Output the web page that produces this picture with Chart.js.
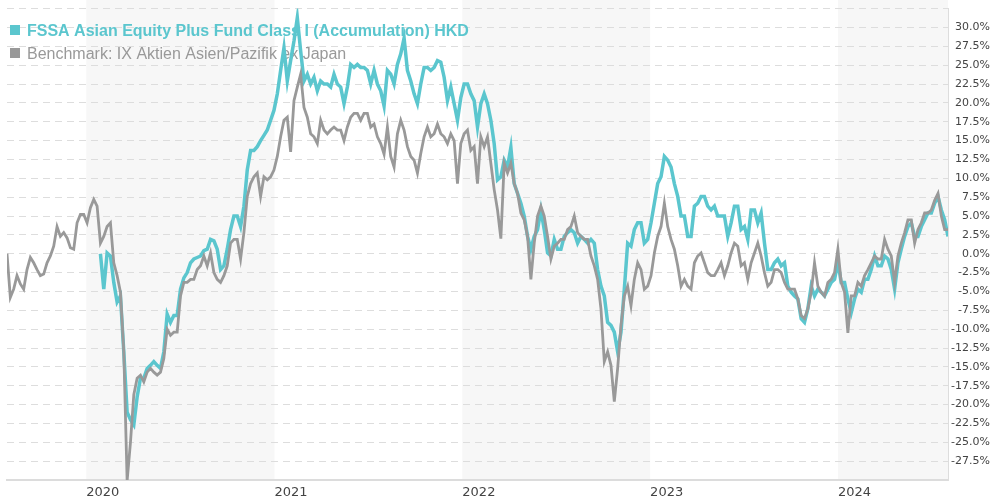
<!DOCTYPE html>
<html>
<head>
<meta charset="utf-8">
<title>FSSA Asian Equity Plus Fund - performance</title>
<script src="https://cdn.jsdelivr.net/npm/chart.js@4.4.1/dist/chart.umd.min.js"></script>
<style>
  html, body { margin: 0; padding: 0; background: #fff; }
  #wrap { width: 990px; height: 500px; }
</style>
</head>
<body>
<div id="wrap"><canvas id="perfChart" width="990" height="500"></canvas></div>
<script>
// Cumulative performance in %, fund vs benchmark
const seriesNames = [
  'FSSA Asian Equity Plus Fund Class I (Accumulation) HKD',
  'Benchmark: IX Aktien Asien/Pazifik ex Japan'
];
const seriesColors = ['#5bc6ce', '#999999'];

// observations are evenly spaced between these two dates
const startDate = Date.UTC(2019, 6, 31);
const endDate = Date.UTC(2024, 7, 2);

const yearTicks = [2020, 2021, 2022, 2023, 2024];
const shadedYears = [2020, 2022, 2024];
const yMin = -30;
const yMax = 32.5;
const yStep = 2.5;

const benchmarkReturn = [
  0.0, -5.8, -4.7, -2.9, -4.0, -4.7, -2.1, -0.5, -1.2, -2.1, -2.9, -2.7, -1.2, -0.3, 1.0, 3.6,
  2.3, 2.8, 2.1, 0.8, 0.6, 4.1, 5.2, 5.2, 4.1, 6.1, 7.2, 6.3, 1.4, 2.3, 3.6, 4.1,
  -1.2, -2.9, -5.1, -13.0, -30.1, -25.0, -18.7, -16.5, -16.1, -17.0, -15.7, -15.2, -15.7, -16.1,
  // 2020 recovery
  -15.7, -13.9, -10.0, -10.8, -10.4, -10.4, -5.6, -3.8, -3.8, -3.4, -3.4, -2.1, -1.6, -0.3, -1.6, 0.1,
  -2.5, -3.4, -3.8, -2.9, -1.6, 1.4, 1.9, 1.9, -0.7, 2.8, 7.6, 9.3, 10.2, 10.7, 7.6, 10.2,
  9.8, 10.2, 11.1, 12.9, 15.5, 17.7, 18.1, 13.5, 20.3, 22.1, 23.8, 19.4, 18.1, 15.9, 15.5, 14.6,
  // 2021
  17.7, 16.4, 15.9, 16.4, 16.8, 16.4, 16.4, 15.0, 16.8, 18.1, 18.6, 18.6, 17.7, 18.6, 18.6, 16.8,
  17.2, 15.5, 14.6, 13.2, 16.8, 12.9, 11.5, 15.9, 17.7, 16.4, 14.2, 12.9, 12.4, 10.7, 13.3, 15.5,
  16.8, 15.5, 15.9, 17.2, 15.9, 15.5, 14.6, 15.9, 15.0, 9.3, 14.6, 15.9, 16.4, 13.7, 14.2, 9.3,
  // 2022
  15.5, 14.2, 15.5, 12.0, 8.5, 5.8, 2.0, 12.0, 10.7, 12.0, 9.3, 8.0, 5.4, 4.5, 2.3, -3.4,
  1.4, 5.0, 6.3, 5.0, 2.3, -0.7, 1.0, 1.4, 1.9, 1.9, 3.2, 3.6, 5.0, 2.8, 2.3, 1.9,
  1.9, -0.3, -1.6, -3.4, -7.3, -14.3, -13.0, -14.8, -19.6, -15.2, -9.5, -5.6, -4.3, -6.9, -3.4, -1.2,
  // 2023
  -2.1, -4.7, -4.3, -2.9, 0.1, 2.3, 3.6, 6.7, 3.6, 1.9, 0.6, -1.6, -4.3, -3.4, -4.3, -4.7,
  -1.2, -0.3, 0.1, -1.2, -2.5, -2.9, -2.9, -2.1, -1.2, -2.9, -1.6, 0.1, 1.4, 1.0, -1.6, -1.2,
  -3.4, -1.2, 0.1, 1.4, -0.3, -2.5, -4.3, -3.8, -2.1, -2.1, -2.5, -3.8, -4.7, -4.7, -4.7, -6.0,
  // 2024
  -8.2, -8.6, -7.3, -5.1, -1.2, -4.3, -5.1, -5.6, -3.8, -3.4, -2.5, 0.6, -3.8, -5.1, -10.5, -5.6,
  -5.6, -3.8, -4.3, -2.9, -2.1, -1.2, -0.3, -0.7, -0.7, 1.9, 0.6, -0.3, -3.8, -0.3, 1.4, 2.8,
  4.5, 4.5, 1.4, 3.2, 4.1, 5.4, 5.4, 5.8, 7.1, 8.0, 5.0, 3.2, 3.2
];

// the fund line only starts early January 2020
const fundReturn = [
  null, null, null, null, null, null, null, null, null, null, null, null, null, null, null, null,
  null, null, null, null, null, null, null, null, null, null, null, null, 0.0, -4.7, 0.1, -0.3,
  -3.8, -6.4, -5.6, -13.0, -21.0, -22.0, -22.7, -19.0, -16.5, -16.5, -15.2, -14.8, -14.3, -14.8,
  -15.2, -13.0, -8.0, -9.1, -8.2, -8.2, -4.7, -3.2, -2.5, -1.2, -0.7, -0.5, -0.3, 0.4, 0.6, 1.9,
  1.7, 0.6, -2.1, -1.6, 0.6, 3.2, 5.0, 5.0, 3.6, 6.3, 11.1, 13.7, 13.7, 14.2, 15.0, 15.7,
  16.4, 17.7, 19.0, 21.2, 24.3, 27.3, 22.9, 25.6, 28.2, 31.3, 26.9, 22.9, 23.8, 22.5, 23.4, 21.6,
  22.9, 22.5, 22.5, 22.1, 23.8, 22.5, 22.1, 19.9, 22.1, 25.1, 24.7, 25.1, 24.7, 24.7, 24.3, 22.5,
  24.3, 22.5, 21.6, 19.6, 24.3, 23.8, 22.5, 25.1, 26.5, 28.6, 24.3, 22.9, 21.2, 19.9, 22.5, 24.7,
  24.7, 24.3, 24.7, 25.6, 25.4, 23.4, 20.3, 22.1, 19.9, 17.7, 20.7, 22.5, 22.5, 21.2, 20.3, 16.8,
  19.9, 21.2, 19.9, 17.7, 14.6, 9.8, 10.2, 12.4, 11.5, 14.1, 9.3, 8.0, 6.7, 5.0, 2.3, 0.6,
  2.3, 3.2, 5.8, 3.2, 0.1, -0.3, 1.9, 0.6, 0.6, 2.3, 2.8, 3.2, 2.8, 1.4, 2.3, 1.9,
  1.4, 1.9, 1.4, -2.1, -4.3, -5.6, -9.1, -9.5, -10.4, -13.0, -10.4, -4.7, 1.4, 1.0, 3.2, 4.1,
  4.1, 1.4, 1.9, 4.1, 6.7, 9.3, 10.2, 12.9, 12.4, 11.5, 9.3, 7.6, 5.0, 5.0, 2.3, 2.3,
  6.3, 6.7, 7.6, 7.6, 6.3, 5.8, 6.3, 5.0, 5.0, 5.0, 2.3, 4.1, 6.3, 6.3, 3.2, 3.6,
  1.9, 5.8, 5.8, 4.1, 5.4, 1.4, -2.1, -2.1, -1.2, -0.7, -1.6, -1.2, -4.3, -5.1, -5.6, -6.0,
  -8.6, -9.1, -7.3, -4.3, -5.6, -4.7, -5.1, -5.6, -4.7, -3.8, -3.4, -1.2, -3.8, -3.8, -6.0, -7.8,
  -6.0, -4.7, -5.1, -3.4, -3.4, -2.1, -0.3, -1.6, -1.6, -0.3, -0.7, -2.1, -4.7, -1.2, 0.6, 2.3,
  3.6, 4.1, 2.3, 2.3, 3.6, 4.5, 5.4, 5.4, 6.7, 7.6, 5.8, 4.5, 2.3
];

const stepMs = (endDate - startDate) / (benchmarkReturn.length - 1);
const toPoints = arr => arr.map((v, i) => ({ x: startDate + i * stepMs, y: v }));

// light grey background for every other calendar year
const yearBands = {
  id: 'yearBands',
  beforeDraw(chart) {
    const { ctx, chartArea, scales } = chart;
    const x = scales.x;
    ctx.save();
    ctx.fillStyle = '#f7f7f7';
    shadedYears.forEach(yr => {
      const x0 = Math.max(x.getPixelForValue(Date.UTC(yr, 0, 1)), chartArea.left);
      const x1 = Math.min(x.getPixelForValue(Date.UTC(yr + 1, 0, 1)), chartArea.right);
      if (x1 > x0) ctx.fillRect(x0, 0, x1 - x0, chartArea.bottom);
    });
    ctx.restore();
  }
};

// legend sits inside the plot, under the lines
const overlayLegend = {
  id: 'overlayLegend',
  beforeDatasetsDraw(chart) {
    const ctx = chart.ctx;
    ctx.save();
    ctx.textBaseline = 'alphabetic';
    ctx.textAlign = 'left';

    ctx.fillStyle = seriesColors[0];
    ctx.fillRect(10, 25, 10, 10);
    ctx.font = 'bold 16px "Liberation Sans", Arial, sans-serif';
    ctx.fillText(seriesNames[0], 27, 36);

    ctx.fillStyle = seriesColors[1];
    ctx.fillRect(10, 48, 10, 10);
    ctx.font = '16px "Liberation Sans", Arial, sans-serif';
    ctx.fillText(seriesNames[1], 27, 59);
    ctx.restore();
  }
};

new Chart(document.getElementById('perfChart'), {
  type: 'line',
  data: {
    datasets: [
      {
        label: seriesNames[0],
        data: toPoints(fundReturn),
        borderColor: seriesColors[0],
        borderWidth: 3.5,
        pointRadius: 0,
        tension: 0,
        fill: false,
        order: 2
      },
      {
        label: seriesNames[1],
        data: toPoints(benchmarkReturn),
        borderColor: seriesColors[1],
        borderWidth: 2.8,
        pointRadius: 0,
        tension: 0,
        fill: false,
        order: 1
      }
    ]
  },
  options: {
    responsive: false,
    animation: false,
    devicePixelRatio: 1,
    layout: { padding: { left: 7, top: 5, right: 0, bottom: 0 } },
    plugins: {
      legend: { display: false },
      tooltip: { enabled: false }
    },
    scales: {
      x: {
        type: 'linear',
        min: startDate,
        max: endDate,
        grid: { display: false },
        border: { display: true, color: '#dcdcdc', width: 2 },
        afterBuildTicks: scale => {
          scale.ticks = yearTicks.map(y => ({ value: Date.UTC(y, 0, 1) }));
        },
        afterFit: scale => { scale.height = 20; },
        ticks: {
          autoSkip: false,
          maxRotation: 0,
          align: 'start',
          padding: -3,
          color: '#444444',
          font: { family: 'DejaVu Sans', size: 13 },
          callback: v => new Date(v).getUTCFullYear()
        }
      },
      y: {
        position: 'right',
        min: yMin,
        max: yMax,
        grid: { color: '#dddddd', lineWidth: 1, drawTicks: false },
        border: { display: true, color: '#dddddd', width: 1, dash: [7, 5] },
        afterFit: scale => { scale.width = 42; },
        ticks: {
          stepSize: yStep,
          crossAlign: 'far',
          padding: 2,
          color: '#444444',
          font: { family: 'DejaVu Sans', size: 11 },
          callback: v => (v <= yMin || v >= yMax) ? '' : v.toFixed(1) + '%'
        }
      }
    }
  },
  plugins: [yearBands, overlayLegend]
});
</script>
</body>
</html>
